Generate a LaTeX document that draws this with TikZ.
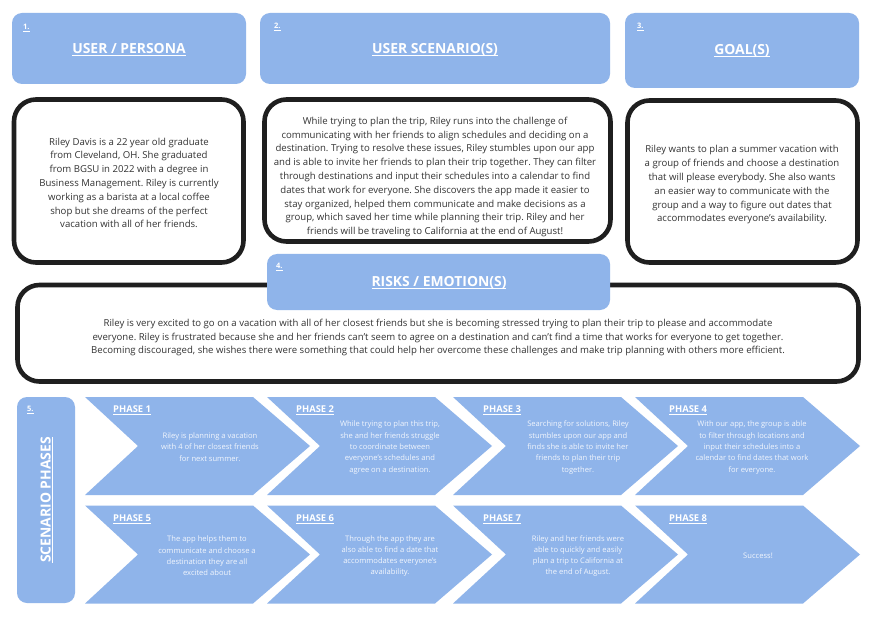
\documentclass[tikz,border=0pt]{standalone}
\usepackage{fontspec}
\setmainfont{Open Sans}
\frenchspacing
\definecolor{blu}{RGB}{143,180,234}
\definecolor{ink}{RGB}{51,51,51}
\definecolor{ptxt}{RGB}{242,246,253}
\newcommand\myul[1]{\leavevmode\setbox0\hbox{#1}\rlap{\rule[-0.2em]{\wd0}{0.09em}}\box0}
\tikzset{
  hdr/.style={fill=blu, draw=none, rounded corners=10pt, inner sep=0pt},
  wbox/.style={draw=black!88, line width=4.6pt, rounded corners=22pt, fill=white, inner sep=0pt},
  num/.style={font=\bfseries\fontsize{7.5}{8}\selectfont, text=white, anchor=west, inner sep=0pt},
  ttl/.style={font=\bfseries\fontsize{13.9}{15}\selectfont, text=white, inner sep=0pt},
  body/.style={font=\fontsize{9.6}{13.8}\selectfont, text=ink, align=center, inner sep=0pt},
  plabel/.style={font=\bfseries\fontsize{9.4}{10}\selectfont, text=white, anchor=west, inner sep=0pt},
  ptext/.style={font=\fontsize{7.6}{11.3}\selectfont, text=ptxt, align=center, inner sep=0pt},
  chevron/.pic={\fill[blu] (0,0) -- (168,0) -- (225,49) -- (168,98) -- (0,98) -- (53,49) -- cycle;}
}
\begin{document}
\frenchspacing
\begin{tikzpicture}[x=1pt,y=-1pt]
\useasboundingbox[fill=white] (0,0) rectangle (872,620);

% header boxes
\node[hdr, minimum width=234pt, minimum height=71pt] (h1) at (129,48.5) {};
\node[hdr, minimum width=350pt, minimum height=71pt] (h2) at (435,48.5) {};
\node[hdr, minimum width=234pt, minimum height=75pt] (h3) at (742,50.5) {};
\node[num] (n1) at (23,28) {\myul{1.}};
\node[num] (n2) at (274,27) {\myul{2.}};
\node[num] (n3) at (637,27) {\myul{3.}};
\node[ttl] (t1) at (129,50) {\myul{USER / PERSONA}};
\node[ttl] (t2) at (435,50) {\myul{USER SCENARIO(S)}};
\node[ttl] (t3) at (742,51) {\myul{GOAL(S)}};

% white boxes
\node[wbox, minimum width=229.5pt, minimum height=163pt] (bA) at (128.75,181) {};
\node[wbox, minimum width=346pt, minimum height=142pt] (bB) at (437.5,170.5) {};
\node[wbox, minimum width=230pt, minimum height=162pt] (bC) at (742.5,181.5) {};

\node[body] (xA) at (129,183) {Riley Davis is a 22 year old graduate\\from Cleveland, OH. She graduated\\from BGSU in 2022 with a degree in\\Business Management. Riley is currently\\working as a barista at a local coffee\\shop but she dreams of the perfect\\vacation with all of her friends.};
\node[body] (xB) at (435,177) {While trying to plan the trip, Riley runs into the challenge of\\communicating with her friends to align schedules and deciding on a\\destination. Trying to resolve these issues, Riley stumbles upon our app\\and is able to invite her friends to plan their trip together. They can filter\\through destinations and input their schedules into a calendar to find\\dates that work for everyone. She discovers the app made it easier to\\stay organized, helped them communicate and make decisions as a\\group, which saved her time while planning their trip. Riley and her\\friends will be traveling to California at the end of August!};
\node[body] (xC) at (742,185) {Riley wants to plan a summer vacation with\\a group of friends and choose a destination\\that will please everybody. She also wants\\an easier way to communicate with the\\group and a way to figure out dates that\\accommodates everyone’s availability.};

% risks
\node[wbox, minimum width=841pt, minimum height=96.5pt] (bR) at (438,333.25) {};
\node[hdr, minimum width=343pt, minimum height=56pt] (h4) at (438.5,282) {};
\node[num] (n4) at (276,267) {\myul{4.}};
\node[ttl] (t4) at (439,283) {\myul{RISKS / EMOTION(S)}};
\node[body] (xR) at (438,337.5) {Riley is very excited to go on a vacation with all of her closest friends but she is becoming stressed trying to plan their trip to please and accommodate\\everyone. Riley is frustrated because she and her friends can’t seem to agree on a destination and can’t find a time that works for everyone to get together.\\Becoming discouraged, she wishes there were something that could help her overcome these challenges and make trip planning with others more efficient.};

% scenario phases
\node[hdr, minimum width=58pt, minimum height=206pt] (h5) at (46,500) {};
\node[num] (n5) at (27,410) {\myul{5.}};
\node[ttl, rotate=90] (t5) at (47,500) {\myul{SCENARIO PHASES}};

\pic at (85,397) {chevron};
\pic at (267,397) {chevron};
\pic at (453,397) {chevron};
\pic at (635,397) {chevron};
\pic at (85,505.5) {chevron};
\pic at (267,505.5) {chevron};
\pic at (453,505.5) {chevron};
\pic at (635,505.5) {chevron};

\node[plabel] (p1) at (113,410) {\myul{PHASE 1}};
\node[plabel] (p2) at (296,410) {\myul{PHASE 2}};
\node[plabel] (p3) at (483,410) {\myul{PHASE 3}};
\node[plabel] (p4) at (669,410) {\myul{PHASE 4}};
\node[plabel] (p5) at (113,519) {\myul{PHASE 5}};
\node[plabel] (p6) at (296,519) {\myul{PHASE 6}};
\node[plabel] (p7) at (483,519) {\myul{PHASE 7}};
\node[plabel] (p8) at (669,519) {\myul{PHASE 8}};

\node[ptext] (q1) at (210,447) {Riley is planning a vacation\\with 4 of her closest friends\\for next summer.};
\node[ptext] (q2) at (390,447.5) {While trying to plan this trip,\\she and her friends struggle\\to coordinate between\\everyone’s schedules and\\agree on a destination.};
\node[ptext] (q3) at (578,447.5) {Searching for solutions, Riley\\stumbles upon our app and\\finds she is able to invite her\\friends to plan their trip\\together.};
\node[ptext] (q4) at (752,447.5) {With our app, the group is able\\to filter through locations and\\input their schedules into a\\calendar to find dates that work\\for everyone.};
\node[ptext] (q5) at (207,556) {The app helps them to\\communicate and choose a\\destination they are all\\excited about};
\node[ptext] (q6) at (390,556) {Through the app they are\\also able to find a date that\\accommodates everyone’s\\availability.};
\node[ptext] (q7) at (578,556) {Riley and her friends were\\able to quickly and easily\\plan a trip to California at\\the end of August.};
\node[ptext] (q8) at (758,555.5) {Success!};
\end{tikzpicture}
\end{document}
